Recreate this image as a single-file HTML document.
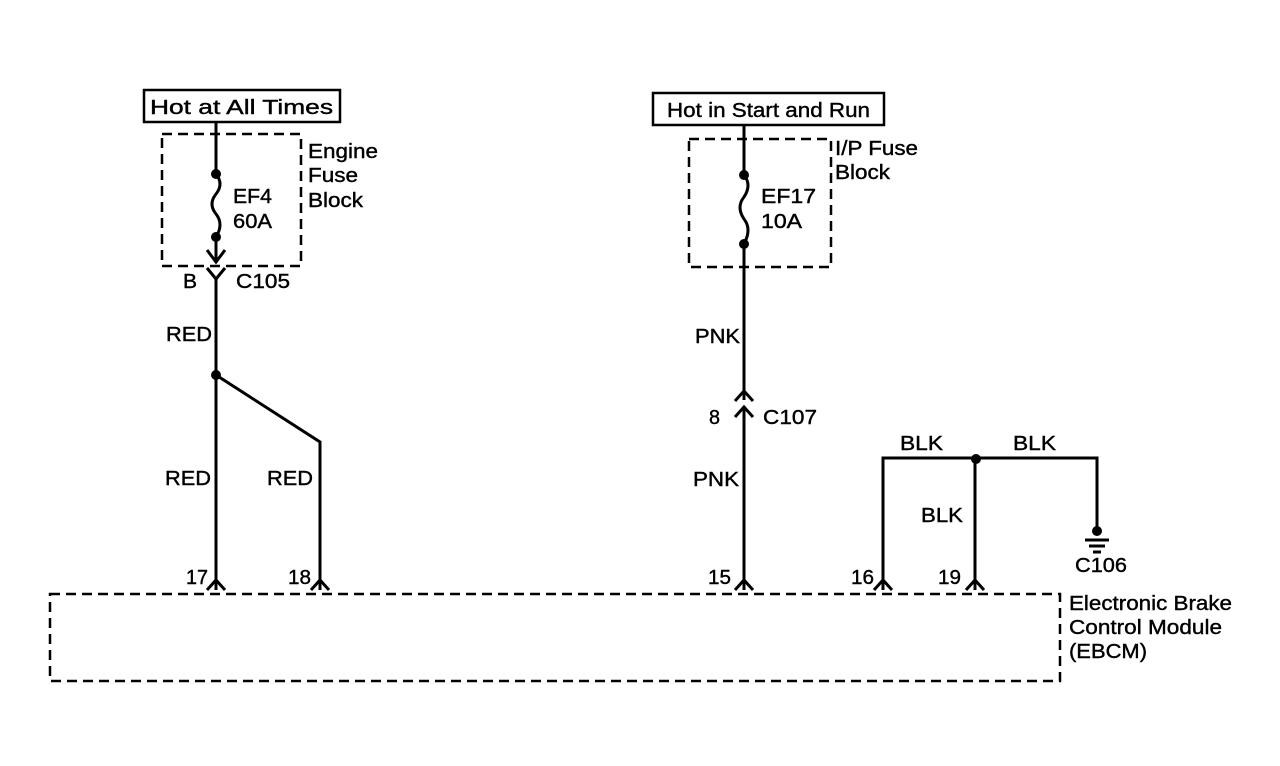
<!DOCTYPE html>
<html><head><meta charset="utf-8"><style>
html,body{margin:0;padding:0;background:#fff;}
svg{display:block;}
text{font-family:"Liberation Sans",Arial,sans-serif;font-size:20px;fill:#000;stroke:#000;stroke-width:0.4;}
</style></head><body>
<svg width="1280" height="766" viewBox="0 0 1280 766" xmlns="http://www.w3.org/2000/svg">
<g fill="none" stroke="#000" stroke-width="3">
<rect x="144" y="90" width="196" height="32" stroke-width="2.5"/>
<rect x="653" y="93" width="231" height="32" stroke-width="2.5"/>
</g>
<text x="150" y="114" textLength="183" lengthAdjust="spacingAndGlyphs">Hot at All Times</text>
<text x="667" y="117" textLength="203" lengthAdjust="spacingAndGlyphs">Hot in Start and Run</text>
<g fill="none" stroke="#000" stroke-width="2.5" stroke-dasharray="10,6">
<rect x="162" y="134" width="139" height="132"/>
<rect x="689" y="139" width="142" height="128"/>
<rect x="50" y="594" width="1010" height="87"/>
</g>
<g fill="none" stroke="#000" stroke-width="3">
<path d="M216 122 V174 M216 174 q8 10 0 20 q-8 10 0 20 q8 10 0 23 M216 237 V262"/>
<path d="M207 250 L216 262 L225 250"/>
<path d="M207 268 L216 279 L225 268 M216 279 V590"/>
<path d="M216 375 L320 442 V590"/>
<path d="M744 125 V175 M744 175 q8 10 0 22 q-8 10 0 22 q8 10 0 25 M744 244 V400"/>
<path d="M735 401 L744 391 L753 401"/>
<path d="M735 417 L744 407 L753 417 M744 407 V590"/>
<path d="M883 590 V458 H1097 V530 M975 458 V590"/>
<path d="M1085 540 H1109 M1089 546 H1105 M1093 552 H1101"/>
<path d="M207 590 L216 580 L225 590 M311 590 L320 580 L329 590 M735 590 L744 580 L753 590 M874 590 L883 580 L892 590 M966 590 L975 580 L984 590"/>
</g>
<g fill="#000">
<circle cx="216" cy="174" r="5"/><circle cx="216" cy="237" r="5"/>
<circle cx="744" cy="175" r="5"/><circle cx="744" cy="244" r="5"/>
<circle cx="216" cy="375" r="5"/>
<circle cx="976" cy="459" r="5"/>
<circle cx="1097" cy="531" r="5"/>
</g>
<g>
<text x="308" y="158" textLength="70" lengthAdjust="spacingAndGlyphs">Engine</text>
<text x="308" y="182" textLength="50" lengthAdjust="spacingAndGlyphs">Fuse</text>
<text x="308" y="207" textLength="55" lengthAdjust="spacingAndGlyphs">Block</text>
<text x="233" y="203" textLength="39" lengthAdjust="spacingAndGlyphs">EF4</text>
<text x="233" y="228" textLength="39" lengthAdjust="spacingAndGlyphs">60A</text>
<text x="183" y="288" textLength="14" lengthAdjust="spacingAndGlyphs">B</text>
<text x="236" y="288" textLength="54" lengthAdjust="spacingAndGlyphs">C105</text>
<text x="166" y="341" textLength="46" lengthAdjust="spacingAndGlyphs">RED</text>
<text x="165" y="485" textLength="46" lengthAdjust="spacingAndGlyphs">RED</text>
<text x="267" y="485" textLength="46" lengthAdjust="spacingAndGlyphs">RED</text>
<text x="835" y="155" textLength="83" lengthAdjust="spacingAndGlyphs">I/P Fuse</text>
<text x="835" y="179" textLength="55" lengthAdjust="spacingAndGlyphs">Block</text>
<text x="761" y="203" textLength="55" lengthAdjust="spacingAndGlyphs">EF17</text>
<text x="761" y="228" textLength="41" lengthAdjust="spacingAndGlyphs">10A</text>
<text x="695" y="343" textLength="45" lengthAdjust="spacingAndGlyphs">PNK</text>
<text x="709" y="424" textLength="11" lengthAdjust="spacingAndGlyphs">8</text>
<text x="763" y="424" textLength="54" lengthAdjust="spacingAndGlyphs">C107</text>
<text x="693" y="486" textLength="46" lengthAdjust="spacingAndGlyphs">PNK</text>
<text x="900" y="450" textLength="43" lengthAdjust="spacingAndGlyphs">BLK</text>
<text x="1013" y="450" textLength="43" lengthAdjust="spacingAndGlyphs">BLK</text>
<text x="921" y="522" textLength="42" lengthAdjust="spacingAndGlyphs">BLK</text>
<text x="1075" y="572" textLength="52" lengthAdjust="spacingAndGlyphs">C106</text>
<text x="186" y="584" textLength="22" lengthAdjust="spacingAndGlyphs">17</text>
<text x="288" y="584" textLength="23" lengthAdjust="spacingAndGlyphs">18</text>
<text x="708" y="584" textLength="23" lengthAdjust="spacingAndGlyphs">15</text>
<text x="851" y="584" textLength="23" lengthAdjust="spacingAndGlyphs">16</text>
<text x="938" y="584" textLength="23" lengthAdjust="spacingAndGlyphs">19</text>
<text x="1069" y="610" textLength="163" lengthAdjust="spacingAndGlyphs">Electronic Brake</text>
<text x="1069" y="634" textLength="153" lengthAdjust="spacingAndGlyphs">Control Module</text>
<text x="1069" y="658" textLength="78" lengthAdjust="spacingAndGlyphs">(EBCM)</text>
</g>
</svg>
</body></html>
